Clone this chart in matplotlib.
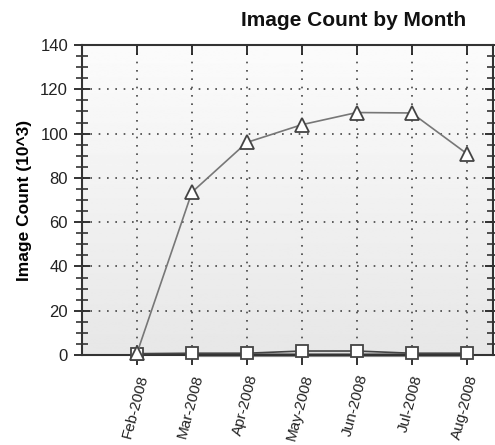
import numpy as np
import matplotlib
matplotlib.use('Agg')
from matplotlib import pyplot as plt
from matplotlib.ticker import MultipleLocator

plt.rcParams['font.family'] = ['Liberation Sans', 'DejaVu Sans']

months = ['Feb-2008', 'Mar-2008', 'Apr-2008', 'May-2008', 'Jun-2008', 'Jul-2008', 'Aug-2008']
images = [0.8, 73.5, 96, 104, 109.5, 109.3, 91]
other = [0.6, 0.8, 0.8, 1.8, 1.8, 0.8, 0.8]
base = [0, 0, 0, 0, 0, 0, 0]

fig = plt.figure(figsize=(4.95, 4.45), dpi=100)
ax = fig.add_axes([82/495, 1 - 355/445, 411/495, 310/445])

x = np.arange(len(months))
ax.set_xlim(-1, 6.48)
ax.set_ylim(0, 140)

# gradient background, white at top to light grey at bottom
grad = np.linspace(0.985, 0.905, 256).reshape(-1, 1)
ax.imshow(grad, cmap='gray', vmin=0, vmax=1, aspect='auto',
          extent=(-1, 6.48, 0, 140), origin='upper', zorder=0)

ax.grid(True, which='major', linestyle=(0, (1, 4)), color='#444444', linewidth=1.2, zorder=1)

ax.plot(x[1:], base[1:], color='#8a8a8a', lw=3, zorder=2, clip_on=False)
ax.plot(x, other, color='#444444', lw=1.2, marker='s', markersize=8.5,
        markerfacecolor='white', markeredgecolor='#444444', markeredgewidth=1.3,
        zorder=3, clip_on=False)
ax.plot(x, images, color='#777777', lw=1.2, marker='^', markersize=10,
        markerfacecolor='white', markeredgecolor='#444444', markeredgewidth=1.3,
        zorder=4, clip_on=False)

ax.set_xticks(x)
ax.set_xticklabels(months, rotation=75, ha='right', rotation_mode='anchor', fontsize=11)
ax.yaxis.set_major_locator(MultipleLocator(20))
ax.yaxis.set_minor_locator(MultipleLocator(5))
ax.tick_params(axis='y', which='major', direction='inout', length=12, width=1.3,
               labelsize=12, colors='#222222', right=True, pad=4)
ax.tick_params(axis='y', which='minor', direction='inout', length=8, width=1.1,
               right=True, colors='#222222')
ax.tick_params(axis='x', which='major', direction='out', length=7, width=1.3,
               top=True, colors='#222222', pad=6)
for t in ax.xaxis.get_major_ticks():
    t.tick2line.set_marker(3)

for s in ax.spines.values():
    s.set_color('#333333')
    s.set_linewidth(1.5)

ax.set_ylabel('Image Count (10^3)', fontsize=12.5, fontweight='bold', labelpad=6)
fig.text(354/495, 1 - 20/445, 'Image Count by Month', fontsize=15,
         fontweight='bold', ha='center', va='center', color='#111111')

fig.savefig('out.png', dpi=100)
